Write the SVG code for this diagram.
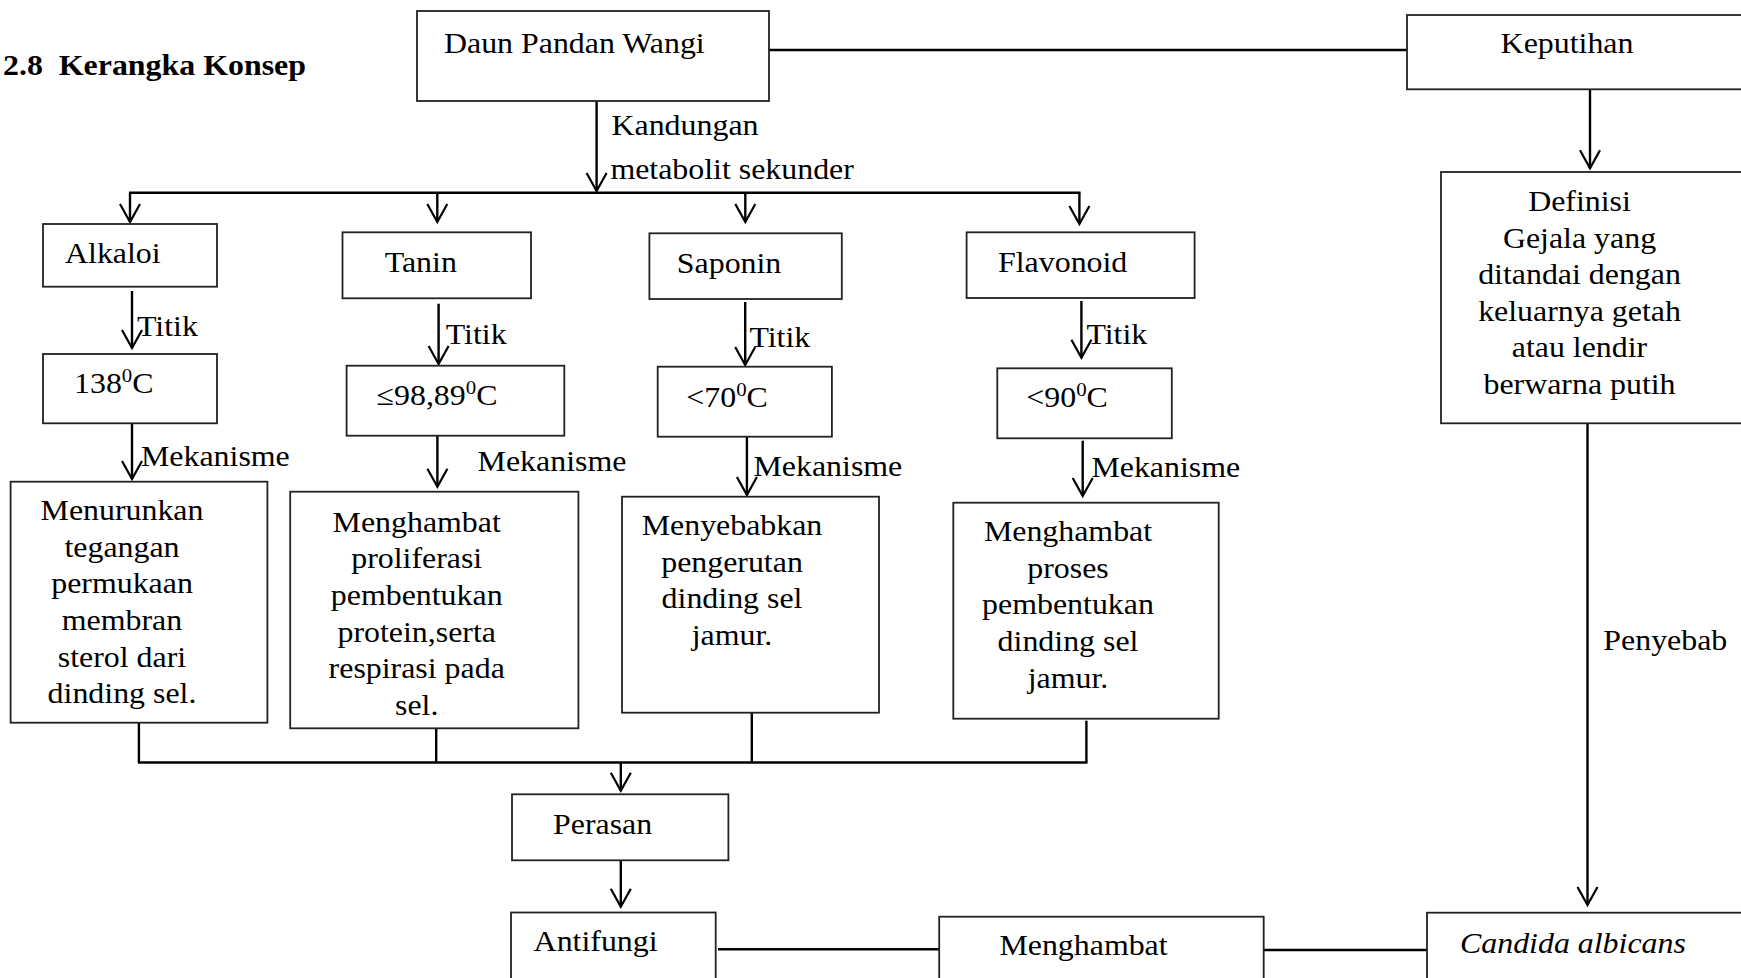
<svg xmlns="http://www.w3.org/2000/svg" width="1741" height="978" viewBox="0 0 1741 978">
<style>
.t{font-family:"Liberation Serif","Times New Roman",serif;font-size:29px;fill:#000}
.b{font-weight:bold}
.i{font-style:italic}
.m{text-anchor:middle}
.box{fill:#fff;stroke:#222;stroke-width:1.8}
.ln{fill:none;stroke:#000;stroke-width:2.4}
.ar{fill:none;stroke:#000;stroke-width:2.4;marker-end:url(#arr)}
</style>
<defs>
<marker id="arr" markerUnits="userSpaceOnUse" orient="auto" overflow="visible" markerWidth="1" markerHeight="1" refX="0" refY="0">
<path d="M-18,-10 L0,0 L-18,10" fill="none" stroke="#000" stroke-width="2.2"/>
</marker>
</defs>
<rect width="1741" height="978" fill="#fff"/>
<text class="t b" transform="translate(3,75) scale(1.1,1)">2.8&#160; Kerangka Konsep</text>

<g id="connectors">
<line class="ln" x1="769" y1="50" x2="1407" y2="50"/>
<line class="ar" x1="596.6" y1="101" x2="596.6" y2="191"/>
<line class="ln" x1="129" y1="192.7" x2="1080.5" y2="192.7"/>
<line class="ar" x1="130" y1="192.7" x2="130" y2="222"/>
<line class="ar" x1="437.3" y1="192.7" x2="437.3" y2="222"/>
<line class="ar" x1="745.3" y1="192.7" x2="745.3" y2="222"/>
<line class="ar" x1="1079.4" y1="192.7" x2="1079.4" y2="224"/>
<line class="ar" x1="132" y1="291" x2="132" y2="348"/>
<line class="ar" x1="132" y1="423.3" x2="132" y2="479"/>
<line class="ar" x1="438.6" y1="303.7" x2="438.6" y2="364"/>
<line class="ar" x1="437.4" y1="431.7" x2="437.4" y2="486.7"/>
<line class="ar" x1="745.2" y1="302" x2="745.2" y2="365"/>
<line class="ar" x1="746.9" y1="436.7" x2="746.9" y2="495"/>
<line class="ar" x1="1081.4" y1="301" x2="1081.4" y2="357.7"/>
<line class="ar" x1="1082.7" y1="440.7" x2="1082.7" y2="496"/>
<line class="ln" x1="138.9" y1="722.7" x2="138.9" y2="762.5" stroke-width="1.8"/>
<line class="ln" x1="436.2" y1="723" x2="436.2" y2="762.5" stroke-width="1.8"/>
<line class="ln" x1="751.8" y1="712.7" x2="751.8" y2="762.5" stroke-width="1.8"/>
<line class="ln" x1="1086.4" y1="720.7" x2="1086.4" y2="762.5"/>
<line class="ln" x1="138" y1="762.5" x2="1087.4" y2="762.5"/>
<line class="ar" x1="620.8" y1="762.5" x2="620.8" y2="790.7"/>
<line class="ar" x1="620.8" y1="860.3" x2="620.8" y2="906.7"/>
<line class="ln" x1="718" y1="949.3" x2="939" y2="949.3"/>
<line class="ln" x1="1263.7" y1="950" x2="1427" y2="950"/>
<line class="ar" x1="1590" y1="89.3" x2="1590" y2="168.3"/>
<line class="ar" x1="1587.5" y1="420" x2="1587.5" y2="905"/>
</g>

<g id="label-kandungan">
<text class="t" transform="translate(611.5,135) scale(1.1,1)">Kandungan</text>
<text class="t" transform="translate(610.4,179) scale(1.1,1)">metabolit sekunder</text>
</g>
<g id="labels-titik">
<text class="t" transform="translate(137,336) scale(1.1,1)">Titik</text>
<text class="t" transform="translate(445.7,344) scale(1.1,1)">Titik</text>
<text class="t" transform="translate(749.4,347.3) scale(1.1,1)">Titik</text>
<text class="t" transform="translate(1086.4,344) scale(1.1,1)">Titik</text>
</g>
<g id="labels-mekanisme">
<text class="t" transform="translate(141,466) scale(1.1,1)">Mekanisme</text>
<text class="t" transform="translate(477.6,470.7) scale(1.1,1)">Mekanisme</text>
<text class="t" transform="translate(753.5,476) scale(1.1,1)">Mekanisme</text>
<text class="t" transform="translate(1091.4,476.7) scale(1.1,1)">Mekanisme</text>
</g>
<g id="label-penyebab">
<text class="t" transform="translate(1603.3,650) scale(1.1,1)">Penyebab</text>
</g>

<g id="daun">
<rect class="box" x="417" y="11" width="352" height="90"/>
<text class="t" transform="translate(444,53) scale(1.1,1)">Daun Pandan Wangi</text>
</g>
<g id="keputihan">
<rect class="box" x="1407" y="15" width="345" height="74.3"/>
<text class="t" transform="translate(1500.6,53.3) scale(1.1,1)">Keputihan</text>
</g>
<g id="definisi">
<rect class="box" x="1441" y="172" width="320" height="251.3"/>
<text class="t m" transform="translate(1579.5,211) scale(1.1,1)"><tspan x="0" dy="0">Definisi</tspan><tspan x="0" dy="36.6">Gejala yang</tspan><tspan x="0" dy="36.6">ditandai dengan</tspan><tspan x="0" dy="36.6">keluarnya getah</tspan><tspan x="0" dy="36.6">atau lendir</tspan><tspan x="0" dy="36.6">berwarna putih</tspan></text>
</g>

<g id="alkaloi">
<rect class="box" x="43" y="224" width="174" height="62.7"/>
<text class="t" transform="translate(65,263) scale(1.1,1)">Alkaloi</text>
</g>
<g id="t138">
<rect class="box" x="43" y="354" width="174" height="69.3"/>
<text class="t" transform="translate(74,392.7) scale(1.1,1)">138<tspan dy="-11" font-size="19">0</tspan><tspan dy="11">C</tspan></text>
</g>
<g id="menurunkan">
<rect class="box" x="10.6" y="481.7" width="256.8" height="241"/>
<text class="t m" transform="translate(122,520) scale(1.1,1)"><tspan x="0" dy="0">Menurunkan</tspan><tspan x="0" dy="36.7">tegangan</tspan><tspan x="0" dy="36.7">permukaan</tspan><tspan x="0" dy="36.7">membran</tspan><tspan x="0" dy="36.7">sterol dari</tspan><tspan x="0" dy="36.7">dinding sel.</tspan></text>
</g>

<g id="tanin">
<rect class="box" x="342.5" y="232.3" width="188.5" height="66"/>
<text class="t" transform="translate(384.7,271.7) scale(1.1,1)">Tanin</text>
</g>
<g id="t98">
<rect class="box" x="346.6" y="365.7" width="217.7" height="70"/>
<text class="t" transform="translate(376.5,405) scale(1.1,1)">≤98,89<tspan dy="-11" font-size="19">0</tspan><tspan dy="11">C</tspan></text>
</g>
<g id="menghambat-proliferasi">
<rect class="box" x="290.2" y="491.7" width="288.2" height="236.6"/>
<text class="t m" transform="translate(416.7,531.7) scale(1.1,1)"><tspan x="0" dy="0">Menghambat</tspan><tspan x="0" dy="36.7">proliferasi</tspan><tspan x="0" dy="36.7">pembentukan</tspan><tspan x="0" dy="36.7">protein,serta</tspan><tspan x="0" dy="36.7">respirasi pada</tspan><tspan x="0" dy="36.7">sel.</tspan></text>
</g>

<g id="saponin">
<rect class="box" x="649.4" y="233.3" width="192.4" height="65.7"/>
<text class="t" transform="translate(676.8,272.7) scale(1.1,1)">Saponin</text>
</g>
<g id="t70">
<rect class="box" x="657.7" y="366.7" width="174.2" height="70"/>
<text class="t" transform="translate(686.3,406.7) scale(1.1,1)">&lt;70<tspan dy="-11" font-size="19">0</tspan><tspan dy="11">C</tspan></text>
</g>
<g id="menyebabkan">
<rect class="box" x="622" y="496.7" width="257" height="216"/>
<text class="t m" transform="translate(732,535) scale(1.1,1)"><tspan x="0" dy="0">Menyebabkan</tspan><tspan x="0" dy="36.7">pengerutan</tspan><tspan x="0" dy="36.7">dinding sel</tspan><tspan x="0" dy="36.7">jamur.</tspan></text>
</g>

<g id="flavonoid">
<rect class="box" x="966.6" y="232.3" width="228" height="65.7"/>
<text class="t" transform="translate(998,271.7) scale(1.1,1)">Flavonoid</text>
</g>
<g id="t90">
<rect class="box" x="997.3" y="368.3" width="174.5" height="70"/>
<text class="t" transform="translate(1026.3,407.3) scale(1.1,1)">&lt;90<tspan dy="-11" font-size="19">0</tspan><tspan dy="11">C</tspan></text>
</g>
<g id="menghambat-proses">
<rect class="box" x="953.3" y="502.7" width="265.4" height="216"/>
<text class="t m" transform="translate(1068,541) scale(1.1,1)"><tspan x="0" dy="0">Menghambat</tspan><tspan x="0" dy="36.7">proses</tspan><tspan x="0" dy="36.7">pembentukan</tspan><tspan x="0" dy="36.7">dinding sel</tspan><tspan x="0" dy="36.7">jamur.</tspan></text>
</g>

<g id="perasan">
<rect class="box" x="512" y="794.3" width="216.4" height="66"/>
<text class="t" transform="translate(553,834) scale(1.1,1)">Perasan</text>
</g>
<g id="antifungi">
<rect class="box" x="511" y="912.5" width="204.7" height="90"/>
<text class="t" transform="translate(533.6,950.7) scale(1.1,1)">Antifungi</text>
</g>
<g id="menghambat">
<rect class="box" x="939.2" y="916.7" width="324.5" height="90"/>
<text class="t" transform="translate(999.4,955) scale(1.1,1)">Menghambat</text>
</g>
<g id="candida">
<rect class="box" x="1427" y="912.7" width="330" height="90"/>
<text class="t i" transform="translate(1460,952.7) scale(1.1,1)">Candida albicans</text>
</g>
</svg>
